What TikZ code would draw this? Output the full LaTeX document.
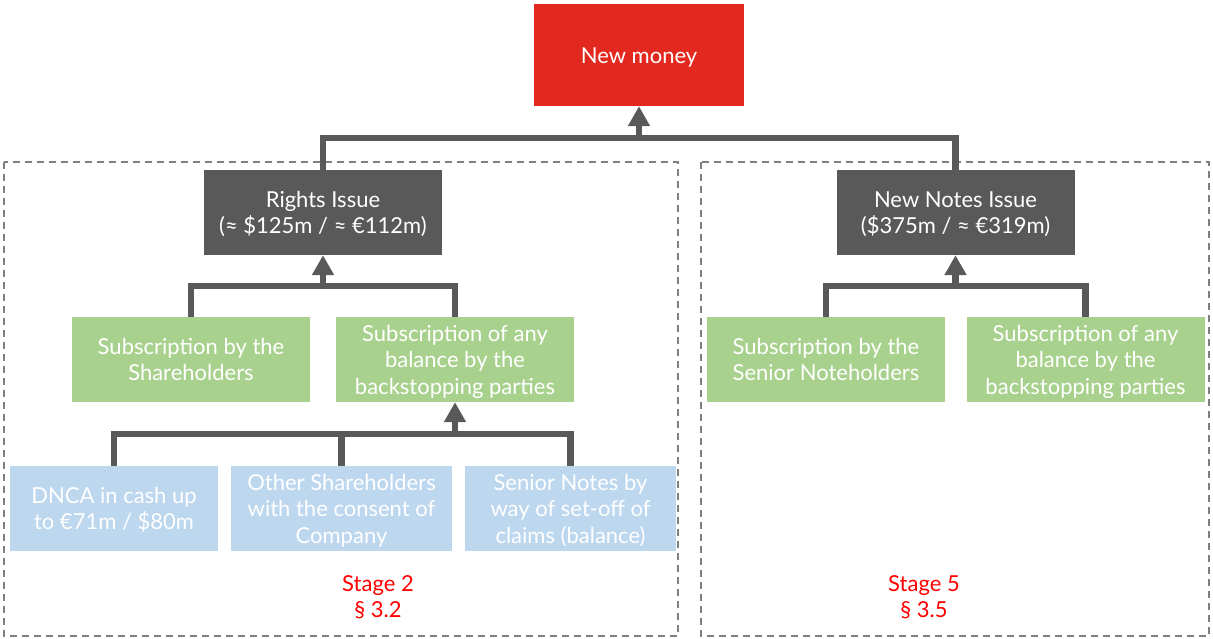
\documentclass[tikz,border=0pt]{standalone}
\usepackage{fontspec}
\usepackage{array}
\setmainfont{Lato}
\usetikzlibrary{arrows.meta}

\definecolor{moneyred}{HTML}{E3281F}
\definecolor{issuegray}{HTML}{595959}
\definecolor{subgreen}{HTML}{A9D18E}
\definecolor{partblue}{HTML}{BDD7EE}
\definecolor{framegray}{HTML}{7F7F7F}
\definecolor{stagered}{HTML}{FF0000}

% box text as a one-column table whose rows all carry the same strut
% (21.4pt above the baseline, 4.9pt below), so every block is centred
% by font metrics with a 26.3pt line pitch
\newcommand\boxlines[1]{{%
  \renewcommand\arraystretch{0}%
  \begin{tabular}{@{}>{\rule[-4.9pt]{0pt}{26.3pt}}c@{}}#1\end{tabular}}}

\tikzset{
  box/.style={rectangle, inner sep=0pt, text=white, minimum height=85pt},
  topbox/.style={box, fill=moneyred, minimum width=210pt, minimum height=102pt},
  issuebox/.style={box, fill=issuegray, minimum width=238pt},
  subbox/.style={box, fill=subgreen, minimum width=238pt},
  partbox/.style={box, fill=partblue, minimum width=210pt},
  stagebox/.style={dash pattern=on 7pt off 5pt, line width=1.5pt, draw=framegray},
  stagelabel/.style={text=stagered, align=center},
  conn/.style={draw=issuegray, line width=6.5pt},
  arr/.style={conn, -{Triangle[width=21pt,length=20pt]}}
}

\begin{document}
\begin{tikzpicture}[x=1pt, y=-1pt, font=\fontsize{22}{26.3}\selectfont]
  \useasboundingbox (0,0) rectangle (1213,639);

  % stage frames
  \draw[stagebox] (4,162) rectangle (678,636);
  \draw[stagebox] (701,162) rectangle (1209,636);

  % top level
  \node[topbox] (nm) at (639,55) {\boxlines{New money}};

  % issues
  \node[issuebox] (ri) at (323,212.5) {\boxlines{Rights Issue\\(≈ \$125m / ≈ €112m)}};
  \node[issuebox] (nn) at (955.5,212.5) {\boxlines{New Notes Issue\\(\$375m / ≈ €319m)}};

  % subscriptions
  \node[subbox] (g1) at (191,359.5) {\boxlines{Subscription by the\\Shareholders}};
  \node[subbox] (g2) at (455,359.5) {\boxlines{Subscription of any\\balance by the\\backstopping parties}};
  \node[subbox] (g3) at (826,359.5) {\boxlines{Subscription by the\\Senior Noteholders}};
  \node[subbox] (g4) at (1085.5,359.5) {\boxlines{Subscription of any\\balance by the\\backstopping parties}};

  % backstopping parties
  \node[partbox, minimum width=208pt] (b1) at (114,508.5) {\boxlines{DNCA in cash up\\to €71m / \$80m}};
  \node[partbox, minimum width=221pt] (b2) at (341.5,508.5) {\boxlines{Other Shareholders\\with the consent of\\Company}};
  \node[partbox, minimum width=211pt] (b3) at (570.5,508.5) {\boxlines{Senior Notes by\\way of set-off of\\claims (balance)}};

  % stage labels
  \node[stagelabel] (s2) at (378,597.5) {Stage 2\\§ 3.2};
  \node[stagelabel] (s5) at (924,597.5) {Stage 5\\§ 3.5};

  % junction points of the connectors
  \coordinate (jtop) at (639,138);
  \coordinate (jri) at (323,286);
  \coordinate (jnn) at (955.5,286);
  \coordinate (jg2) at (455,434);

  % issues feed new money
  \draw[conn] (ri.north) |- (nn.north |- jtop) -- (nn.north);
  \draw[arr] (nm.south |- jtop) -- (nm.south);

  % subscriptions feed the rights issue
  \draw[conn] (g1.north) |- (g2.north |- jri) -- (g2.north);
  \draw[arr] (jri) -- (ri.south);

  % subscriptions feed the new notes issue
  \draw[conn] (g3.north) |- (g4.north |- jnn) -- (g4.north);
  \draw[arr] (jnn) -- (nn.south);

  % backstopping parties feed the balance subscription
  \draw[conn] (b1.north) |- (b3.north |- jg2) -- (b3.north);
  \draw[conn] (b2.north) -- (b2.north |- jg2);
  \draw[arr] (jg2) -- (g2.south);
\end{tikzpicture}
\end{document}
